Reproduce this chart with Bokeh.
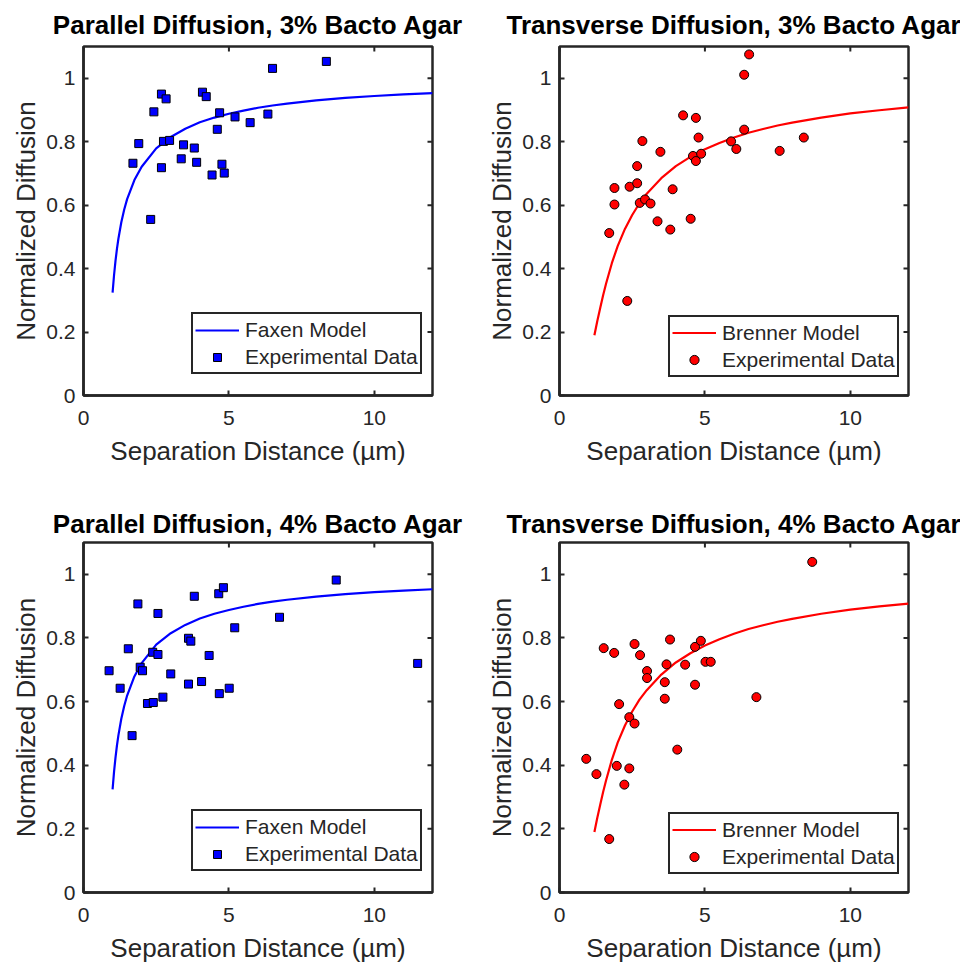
import math
from bokeh.plotting import figure
from bokeh.layouts import gridplot
from bokeh.models import FixedTicker, Legend, LegendItem, Range1d
from bokeh.embed import file_html
from bokeh.resources import INLINE

# ---------------- data ----------------
# Parallel diffusion, 3% Bacto Agar
par3_x = [1.70, 1.90, 2.31, 2.42, 2.68, 2.68, 2.75, 2.84, 2.96, 3.36, 3.44, 3.81, 3.89,
          4.09, 4.22, 4.42, 4.60, 4.68, 4.76, 4.84, 5.21, 5.73, 6.34, 6.50, 8.35]
par3_y = [0.732, 0.794, 0.555, 0.894, 0.950, 0.718, 0.801, 0.935, 0.804, 0.746, 0.790, 0.780, 0.735,
          0.956, 0.942, 0.695, 0.839, 0.891, 0.729, 0.701, 0.878, 0.860, 0.887, 1.031, 1.053]

# Transverse diffusion, 3% Bacto Agar
tra3_x = [1.71, 1.89, 1.89, 2.33, 2.41, 2.67, 2.67, 2.76, 2.85, 2.94, 3.13, 3.37, 3.47, 3.81, 3.89,
          4.25, 4.51, 4.59, 4.69, 4.69, 4.78, 4.87, 5.90, 6.08, 6.35, 6.35, 6.52, 7.57, 8.40]
tra3_y = [0.512, 0.654, 0.602, 0.298, 0.658, 0.723, 0.669, 0.607, 0.802, 0.618, 0.605, 0.549, 0.768, 0.523, 0.650,
          0.883, 0.557, 0.755, 0.875, 0.739, 0.813, 0.762, 0.801, 0.777, 1.011, 0.838, 1.075, 0.771, 0.813]

# Parallel diffusion, 4% Bacto Agar
par4_x = [0.88, 1.26, 1.54, 1.67, 1.87, 1.95, 2.03, 2.20, 2.38, 2.40, 2.56, 2.56, 2.73, 3.00,
          3.61, 3.61, 3.69, 3.81, 4.06, 4.32, 4.65, 4.67, 4.81, 5.01, 5.20, 6.74, 8.69, 11.49]
par4_y = [0.697, 0.642, 0.766, 0.493, 0.907, 0.708, 0.697, 0.594, 0.755, 0.597, 0.877, 0.748, 0.614, 0.687,
          0.799, 0.655, 0.790, 0.931, 0.663, 0.745, 0.939, 0.625, 0.958, 0.642, 0.832, 0.865, 0.982, 0.720]

# Transverse diffusion, 4% Bacto Agar
tra4_x = [0.92, 1.27, 1.52, 1.71, 1.88, 1.97, 2.05, 2.23, 2.40, 2.40, 2.58, 2.58, 2.77, 3.01,
          3.01, 3.62, 3.62, 3.68, 3.80, 4.05, 4.32, 4.66, 4.66, 4.86, 5.02, 5.20, 6.77, 8.69]
tra4_y = [0.420, 0.372, 0.768, 0.168, 0.753, 0.398, 0.592, 0.339, 0.551, 0.390, 0.781, 0.531, 0.746, 0.696,
          0.674, 0.661, 0.609, 0.717, 0.795, 0.449, 0.716, 0.772, 0.653, 0.791, 0.725, 0.725, 0.614, 1.039]

# Model curves
faxen_x = [1.0, 1.05, 1.1, 1.15, 1.2, 1.3, 1.4, 1.5, 1.75, 2.0, 2.5, 3.0, 3.5, 4.0, 4.5, 5.0, 5.5,
           6.0, 6.5, 7.0, 8.0, 9.0, 10.0, 11.0, 12.0]
faxen_y = [0.324, 0.379, 0.424, 0.462, 0.494, 0.546, 0.586, 0.619, 0.679, 0.721, 0.779, 0.815, 0.841,
           0.861, 0.876, 0.888, 0.898, 0.907, 0.914, 0.920, 0.930, 0.938, 0.944, 0.949, 0.953]
brenner_x = [1.2, 1.3, 1.4, 1.5, 1.6, 1.8, 2.0, 2.25, 2.5, 2.75, 3.0, 3.5, 4.0, 4.5, 5.0, 5.5, 6.0,
             6.5, 7.0, 7.5, 8.0, 9.0, 10.0, 11.0, 12.0]
brenner_y = [0.19, 0.235, 0.276, 0.316, 0.352, 0.417, 0.471, 0.525, 0.569, 0.606, 0.636, 0.685, 0.723,
             0.752, 0.776, 0.796, 0.813, 0.828, 0.840, 0.851, 0.860, 0.876, 0.889, 0.899, 0.908]

x_ticks = [0, 5, 10]
y_ticks = [0, 0.2, 0.4, 0.6, 0.8, 1.0]
x_tick_labels = ["0", "5", "10"]
y_tick_labels = ["0", "0.2", "0.4", "0.6", "0.8", "1"]
x_limits = (0, 12)
y_limits = (0, 1.1)

FONT = "Liberation Sans"
AX = "#262626"


def panel(title, px, py, cx, cy, color, marker, msize, leg_gh, model_label, legend_xy,
          top, bottom, left, right, fh, title_standoff):
    p = figure(frame_width=349, frame_height=fh,
               x_range=Range1d(*x_limits), y_range=Range1d(*y_limits),
               output_backend="svg", toolbar_location=None,
               min_border_top=top, min_border_bottom=bottom,
               min_border_left=left, min_border_right=right,
               background_fill_color="white", border_fill_color="white")
    p.grid.visible = False
    p.outline_line_color = AX
    p.outline_line_width = 2.5
    p.outline_line_alpha = 1

    p.title.text = title
    p.title.align = "center"
    p.title.text_font = FONT
    p.title.text_font_size = "26px"
    p.title.text_font_style = "bold"
    p.title.text_color = "black"
    p.title.text_line_height = 1.0
    p.title.standoff = title_standoff

    for ax, ticks, labels in ((p.xaxis[0], x_ticks, x_tick_labels), (p.yaxis[0], y_ticks, y_tick_labels)):
        ax.ticker = FixedTicker(ticks=ticks)
        ax.major_label_overrides = {t: l for t, l in zip(ticks, labels)}
        ax.major_tick_in = 5
        ax.major_tick_out = 0
        ax.minor_tick_line_color = None
        ax.major_tick_line_color = AX
        ax.major_tick_line_width = 2
        ax.axis_line_color = AX
        ax.axis_line_width = 2.5
        ax.major_label_text_font = FONT
        ax.major_label_text_font_size = "21px"
        ax.major_label_text_color = AX
        ax.axis_label_text_font = FONT
        ax.axis_label_text_font_size = "26px"
        ax.axis_label_text_font_style = "normal"
        ax.axis_label_text_color = AX
    p.xaxis.axis_label = "Separation Distance (µm)"
    p.yaxis.axis_label = "Normalized Diffusion"
    p.xaxis.major_label_standoff = 15
    p.xaxis.axis_label_standoff = 8
    p.yaxis.major_label_standoff = 8
    p.yaxis.axis_label_standoff = 2

    # inward tick marks on the top and right edges of the box (clipped to the frame)
    p.scatter(x_ticks, [y_limits[1]] * len(x_ticks), marker="dash", angle=math.pi / 2,
              size=10, line_color=AX, line_width=2)
    p.scatter([x_limits[1]] * len(y_ticks), y_ticks, marker="dash",
              size=10, line_color=AX, line_width=2)

    ln = p.line(cx, cy, line_color=color, line_width=2.2)
    sc = p.scatter(px, py, marker=marker, size=msize, fill_color=color,
                   line_color="black", line_width=1)

    leg = Legend(items=[LegendItem(label=model_label, renderers=[ln]),
                        LegendItem(label="Experimental Data", renderers=[sc])],
                 location=legend_xy, border_line_color=AX, border_line_width=2.5,
                 border_line_alpha=1,
                 label_text_font=FONT, label_text_font_size="21px", label_text_color=AX,
                 glyph_width=44, glyph_height=leg_gh, label_standoff=6, padding=2,
                 spacing=0, label_height=27, margin=0, background_fill_alpha=1)
    p.add_layout(leg)
    return p


p1 = panel("Parallel Diffusion, 3% Bacto Agar", par3_x, par3_y, faxen_x, faxen_y,
           "#0000FF", "square", 8, 20, "Faxen Model", (108, 21), 46, 101, 83, 45, 349, 14)
p2 = panel("Transverse Diffusion, 3% Bacto Agar", tra3_x, tra3_y, brenner_x, brenner_y,
           "#FF0000", "circle", 9, 23, "Brenner Model", (109, 18), 46, 101, 82, 52, 349, 14)
p3 = panel("Parallel Diffusion, 4% Bacto Agar", par4_x, par4_y, faxen_x, faxen_y,
           "#0000FF", "square", 8, 20, "Faxen Model", (108, 21), 46, 52, 83, 45, 350, 8)
p4 = panel("Transverse Diffusion, 4% Bacto Agar", tra4_x, tra4_y, brenner_x, brenner_y,
           "#FF0000", "circle", 9, 23, "Brenner Model", (109, 18), 46, 52, 80, 54, 350, 8)

grid = gridplot([[p1, p2], [p3, p4]], toolbar_location=None)

with open("out.html", "w") as f:
    f.write(file_html(grid, INLINE))
